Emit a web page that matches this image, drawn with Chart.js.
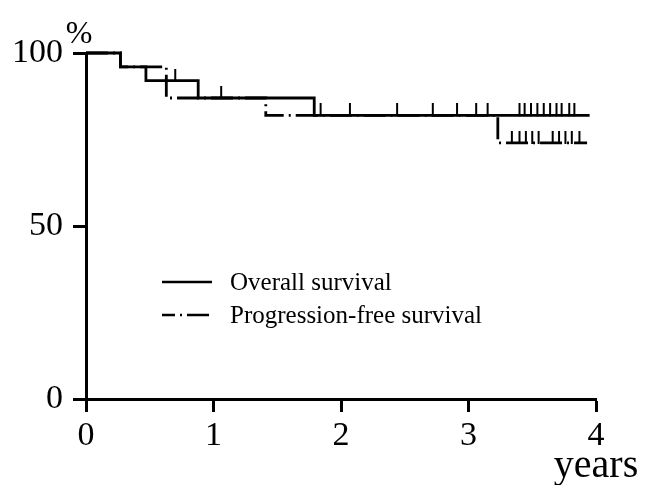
<!DOCTYPE html>
<html>
<head>
<meta charset="utf-8">
<script src="https://cdn.jsdelivr.net/npm/chart.js@4.4.1/dist/chart.umd.min.js"></script>
<style>
  html, body { margin: 0; padding: 0; background: #fff; }
  #wrap { width: 648px; height: 485px; position: relative; }
</style>
</head>
<body>
<div id="wrap"><canvas id="km"></canvas></div>
<script>
// Kaplan-Meier steps (years, %)
const osTimes = [0, 0.27, 0.47, 0.88, 1.79, 3.95];
const osSurv = [100, 96, 92, 87, 82, 82];
const pfsTimes = [0, 0.27, 0.63, 1.41, 3.23, 3.93];
const pfsSurv = [100, 96, 87, 82, 74, 74];

// censored observations (tick marks)
const osCensored = [0.70, 1.06, 1.84, 2.07, 2.44, 2.72, 2.91, 3.06, 3.15,
  3.40, 3.44, 3.49, 3.54, 3.59, 3.64, 3.69, 3.73, 3.79, 3.83];
const pfsCensored = [3.34, 3.40, 3.45, 3.50, 3.55, 3.66, 3.71, 3.76, 3.81, 3.87];

const yTicks = [0, 50, 100];
const xTicks = [0, 1, 2, 3, 4];

const seriesLabels = ['Overall survival', 'Progression-free survival'];
const FONT = "'Liberation Serif', 'Times New Roman', serif";

const survAt = (times, surv, t) => {
  let v = surv[0];
  times.forEach((tt, i) => { if (tt <= t) v = surv[i]; });
  return v;
};

const toPoints = (times, surv) => times.map((t, i) => ({ x: t, y: surv[i] }));
const censorPoints = (list, times, surv) => list.map((t) => ({ x: t, y: survAt(times, surv, t) }));

// upward-only tick used as the censor marker
function censorMark(h, w) {
  const c = document.createElement('canvas');
  c.width = w + 2;
  c.height = h * 2;
  const g = c.getContext('2d');
  g.fillStyle = '#000';
  g.fillRect(1, 0, w, h + 1);
  return c;
}
const mark = censorMark(12, 2);

const PFS_DASH = [22, 5, 2, 5];

const kmText = {
  id: 'kmText',
  afterDraw(chart) {
    const { ctx, chartArea, scales } = chart;
    ctx.save();
    ctx.fillStyle = '#000';
    ctx.textAlign = 'center';
    ctx.textBaseline = 'alphabetic';
    ctx.font = `32px ${FONT}`;
    ctx.fillText('%', chartArea.left - 7, chartArea.top - 10);
    ctx.font = `40px ${FONT}`;
    ctx.fillText('years', scales.x.getPixelForValue(4), 477);

    // legend
    const lx = chartArea.left + 76;
    const rows = [chartArea.top + 229, chartArea.top + 262];
    const dashes = [[], PFS_DASH];
    ctx.textAlign = 'left';
    ctx.textBaseline = 'middle';
    ctx.font = `25px ${FONT}`;
    rows.forEach((ry, i) => {
      ctx.lineWidth = 2.5;
      ctx.strokeStyle = '#000';
      ctx.setLineDash(dashes[i]);
      ctx.lineDashOffset = 9;
      ctx.beginPath();
      ctx.moveTo(lx, ry);
      ctx.lineTo(lx + 50, ry);
      ctx.stroke();
      ctx.setLineDash([]);
      ctx.fillText(seriesLabels[i], lx + 68, ry + 1);
    });
    ctx.restore();
  }
};

new Chart(document.getElementById('km'), {
  type: 'scatter',
  data: {
    datasets: [
      {
        label: seriesLabels[0],
        data: toPoints(osTimes, osSurv),
        showLine: true,
        stepped: true,
        borderColor: '#000',
        borderWidth: 2.8,
        pointRadius: 0,
        clip: false
      },
      {
        label: seriesLabels[1],
        data: toPoints(pfsTimes, pfsSurv),
        showLine: true,
        stepped: true,
        borderColor: '#000',
        borderWidth: 2.8,
        borderDash: PFS_DASH,
        pointRadius: 0,
        clip: false
      },
      {
        label: 'os censored',
        data: censorPoints(osCensored, osTimes, osSurv),
        pointStyle: mark,
        pointRadius: 6,
        clip: false
      },
      {
        label: 'pfs censored',
        data: censorPoints(pfsCensored, pfsTimes, pfsSurv),
        pointStyle: mark,
        pointRadius: 6,
        clip: false
      }
    ]
  },
  options: {
    responsive: true,
    maintainAspectRatio: false,
    animation: false,
    layout: { padding: { top: 53, right: 52, left: 0, bottom: 0 } },
    plugins: {
      legend: { display: false },
      tooltip: { enabled: false }
    },
    scales: {
      x: {
        type: 'linear',
        min: 0,
        max: 4,
        afterFit: (s) => { s.height = 86; },
        afterBuildTicks: (s) => { s.ticks = xTicks.map((v) => ({ value: v })); },
        grid: { drawOnChartArea: false, drawTicks: true, tickLength: 13, tickWidth: 3, tickColor: '#000' },
        border: { display: true, color: '#000', width: 3 },
        ticks: { color: '#000', padding: 4, font: { family: FONT, size: 34 } }
      },
      y: {
        type: 'linear',
        min: 0,
        max: 100,
        afterFit: (s) => { s.width = 86; },
        afterBuildTicks: (s) => { s.ticks = yTicks.map((v) => ({ value: v })); },
        grid: { drawOnChartArea: false, drawTicks: true, tickLength: 13, tickWidth: 3, tickColor: '#000' },
        border: { display: true, color: '#000', width: 3 },
        ticks: { color: '#000', padding: 10, font: { family: FONT, size: 34 } }
      }
    }
  },
  plugins: [kmText]
});
</script>
</body>
</html>
